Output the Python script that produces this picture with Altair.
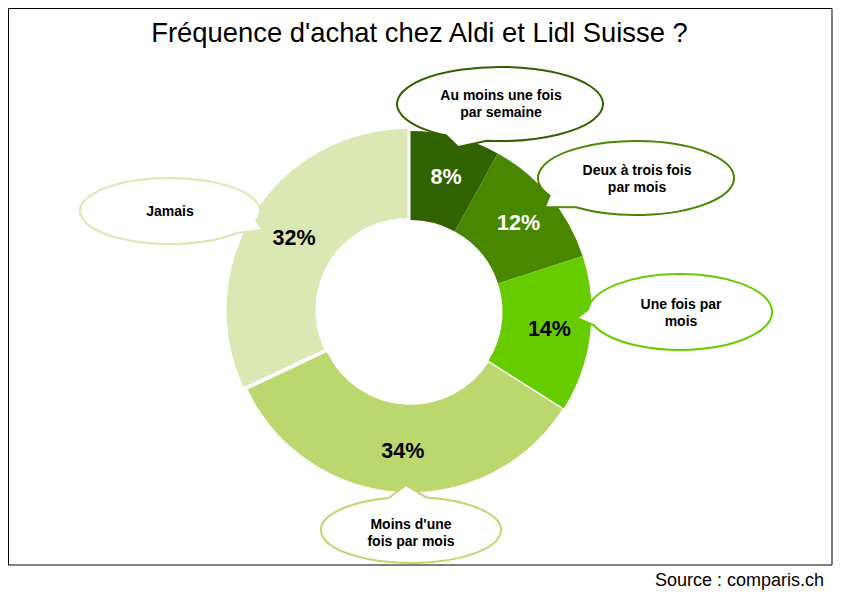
import math
import pandas as pd
import altair as alt

# ---------------- data ----------------
categories = [
    "Au moins une fois par semaine",
    "Deux à trois fois par mois",
    "Une fois par mois",
    "Moins d'une fois par mois",
    "Jamais",
]
bubble_labels = [
    "Au moins une fois\npar semaine",
    "Deux à trois fois\npar mois",
    "Une fois par\nmois",
    "Moins d'une\nfois par mois",
    "Jamais",
]
values = [8, 12, 14, 34, 32]
pct_labels = ["8%", "12%", "14%", "34%", "32%"]

title_text = "Fréquence d'achat chez Aldi et Lidl Suisse ?"
source_text = "Source : comparis.ch"

# ---------------- styling / layout ----------------
colors = ["#306300", "#4A8700", "#66CC00", "#BDD76F", "#DCE8B3"]
OFF = 8  # page margin
CX, CY = 410.5 - OFF, 312 - OFF
R_OUT, R_IN = 181, 92
EXPLODE = (-3, -2)
FONT = "Liberation Sans"
LINE_H = 17

# bubble layout in page coords: (cx, cy, rx, ry, tip_x, tip_y)
bubble_layout = [
    (500, 104, 103, 37, 458, 147),
    (636, 178, 98, 37, 545, 207),
    (680, 312, 92, 38, 577, 318),
    (411, 530, 90, 33, 406, 485),
    (170, 211, 90, 33, 263, 230),
]
text_centers = [(501, 104), (637, 179), (681, 313), (411, 533), (170, 212)]


def bubble_path(rx, ry, tx, ty, d=0.21):
    t = math.atan2(ty / ry, tx / rx)
    a1, a2 = t + d, t - d
    x1, y1 = rx * math.cos(a1), ry * math.sin(a1)
    x2, y2 = rx * math.cos(a2), ry * math.sin(a2)
    return (f"M {x1:.2f} {y1:.2f} A {rx} {ry} 0 1 1 {x2:.2f} {y2:.2f} "
            f"L {tx:.2f} {ty:.2f} Z")


df = pd.DataFrame({
    "cat": categories,
    "value": values,
    "order": list(range(len(values))),
    "pct": pct_labels,
})

theta_scale = alt.Scale(domain=[0, 100], range=[0, 2 * math.pi])
color_enc = alt.Color("cat:N", scale=alt.Scale(domain=categories, range=colors), legend=None)

base = alt.Chart(df).transform_window(
    cum="sum(value)", sort=[{"field": "order"}]
).transform_calculate(
    start="datum.cum - datum.value",
    mid="datum.cum - datum.value / 2",
)

arcs = base.transform_filter(alt.datum.order != 4).mark_arc(
    radius=R_OUT, innerRadius=R_IN, stroke="white"
).encode(
    theta=alt.Theta("start:Q", scale=theta_scale),
    theta2="cum:Q",
    color=color_enc,
    strokeWidth=alt.when(alt.datum.order == 3).then(alt.value(1.5)).otherwise(alt.value(0)),
    x=alt.value(CX),
    y=alt.value(CY),
)

arc_explode = base.transform_filter(alt.datum.order == 4).mark_arc(
    radius=R_OUT, innerRadius=R_IN
).encode(
    theta=alt.Theta("start:Q", scale=theta_scale),
    theta2="cum:Q",
    color=color_enc,
    x=alt.value(CX + EXPLODE[0]),
    y=alt.value(CY + EXPLODE[1]),
)

pct = base.mark_text(
    radius=139, fontSize=21.5, fontWeight="bold", font=FONT
).encode(
    theta=alt.Theta("mid:Q", scale=theta_scale),
    text="pct:N",
    color=alt.when(alt.datum.order < 2).then(alt.value("white")).otherwise(alt.value("black")),
    x=alt.value(CX + 1),
    y=alt.value(CY + 1),
)

one = pd.DataFrame({"k": [0]})

bubbles = []
for (bx, by, rx, ry, tx, ty), col in zip(bubble_layout, colors):
    path = bubble_path(rx, ry, tx - bx, ty - by)
    bubbles.append(
        alt.Chart(one).mark_point(
            shape=path, size=4, filled=True, fill="white", stroke=col,
            strokeWidth=2, opacity=1, fillOpacity=1, strokeOpacity=1,
        ).encode(x=alt.value(bx - OFF), y=alt.value(by - OFF))
    )

# first-line position so that the text block is centred on the bubble
n_lines = [lab.count("\n") + 1 for lab in bubble_labels]
bub_df = pd.DataFrame({
    "label": bubble_labels,
    "tx": [c[0] - OFF for c in text_centers],
    "ty": [c[1] - OFF - (n - 1) * LINE_H / 2 for c, n in zip(text_centers, n_lines)],
})
bub_text = alt.Chart(bub_df).mark_text(
    fontSize=14, fontWeight="bold", font=FONT, lineBreak="\n", lineHeight=LINE_H,
    color="black", baseline="middle", align="center",
).encode(
    x=alt.X("tx:Q", scale=None),
    y=alt.Y("ty:Q", scale=None),
    text="label:N",
)

frame = alt.Chart(one).mark_rect(
    fill="white", fillOpacity=0, stroke="black", strokeWidth=1
).encode(
    x=alt.value(0.5), x2=alt.value(832 - OFF), y=alt.value(0.5), y2=alt.value(565 - OFF)
)

title = alt.Chart(one).mark_text(
    text=title_text, fontSize=27.4, font=FONT, color="black",
    align="center", baseline="alphabetic",
).encode(x=alt.value(419.5 - OFF), y=alt.value(42 - OFF))

source = alt.Chart(one).mark_text(
    text=source_text, fontSize=18, font=FONT, color="black",
    align="right", baseline="alphabetic",
).encode(x=alt.value(824 - OFF), y=alt.value(586 - OFF))

chart = alt.layer(
    frame, arcs, arc_explode, pct, *bubbles, bub_text, title, source
).properties(
    width=826, height=584, autosize="none", padding=0, background="white"
).configure_view(stroke=None)

chart.save("out.html", embed_options={"renderer": "svg", "actions": False})
